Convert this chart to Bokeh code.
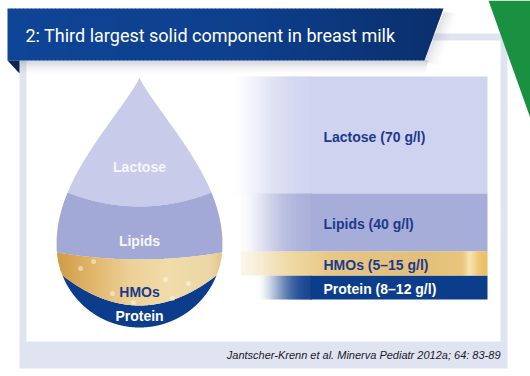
import numpy as np
from bokeh.plotting import figure
from bokeh.models import Range1d
from bokeh.embed import file_html
from bokeh.resources import INLINE
from bokeh.core.properties import value

# ---------------- data ----------------
title = "2: Third largest solid component in breast milk"
components = ["Lactose", "Lipids", "HMOs", "Protein"]
conc_low = [70, 40, 5, 8]
conc_high = [70, 40, 15, 12]
citation = "Jantscher-Krenn et al. Minerva Pediatr 2012a; 64: 83-89"

def conc_label(name, lo, hi):
    return f"{name} ({lo} g/l)" if lo == hi else f"{name} ({lo}\u2013{hi} g/l)"

labels = [conc_label(n, lo, hi) for n, lo, hi in zip(components, conc_low, conc_high)]

# ---------------- helpers ----------------
def hex2rgb(h):
    return tuple(int(h[i:i + 2], 16) for i in (1, 3, 5))

def rgb2hex(c):
    return "#%02x%02x%02x" % tuple(int(round(min(255, max(0, v)))) for v in c)

def grad(stops, t):
    ps = [s[0] for s in stops]
    cs = np.array([hex2rgb(s[1]) for s in stops], float)
    return rgb2hex([np.interp(t, ps, cs[:, k]) for k in range(3)])

def smooth(t):
    t = np.clip(t, 0, 1)
    return t * t * (3 - 2 * t)

W, H = 530, 376
p = figure(width=W, height=H, x_range=Range1d(0, W), y_range=Range1d(H, 0),
           output_backend="svg", toolbar_location=None,
           x_axis_type=None, y_axis_type=None, min_border=0)
p.grid.visible = False
p.outline_line_color = None
p.background_fill_color = "white"
p.border_fill_color = "white"

# ---------------- frame ----------------
p.quad(left=19, right=507, top=33, bottom=368, fill_color="#dfe4f0", line_color=None)
p.quad(left=26, right=500, top=40, bottom=341, fill_color="white", line_color=None)

# ---------------- right-hand bands ----------------
band_edges = [76, 193, 251, 275, 299]
band_right = 487
band_cols = ["#d0d3ef", "#a7add9", None, "#0c3d8b"]
fade_from = [228, 235, None, 255]
for i, col in enumerate(band_cols):
    top, bot = band_edges[i], band_edges[i + 1]
    if col is None:
        continue
    p.quad(left=310, right=band_right, top=top, bottom=bot, fill_color=col, line_color=None)
    xs = np.arange(fade_from[i], 310.5, 1.0)
    for x in xs:
        a = smooth((x - fade_from[i]) / (310 - fade_from[i]))
        p.quad(left=x, right=x + 1.4, top=top, bottom=bot, fill_color=col,
               fill_alpha=float(a), line_color=None)

# gold HMO band
gold_stops = [(240, "#f4ead0"), (290, "#efd7a0"), (330, "#e6c480"), (420, "#e1bc72"),
              (462, "#e8c276"), (469, "#f9e4ac"), (474, "#f3d38e"), (480, "#ecc06a"), (487, "#e9b860")]
for x in np.arange(240, band_right, 1.0):
    a = 0.35 + 0.65 * smooth((x - 240) / 50)
    p.quad(left=x, right=min(x + 1.4, band_right), top=band_edges[2], bottom=band_edges[3],
           fill_color=grad(gold_stops, x + 0.5), fill_alpha=float(a), line_color=None)

# ---------------- drop ----------------
CX, TIP, CY, R = 139, 77, 244, 83
ys_up = np.linspace(TIP, CY, 800)
s_up = (ys_up - TIP) / (CY - TIP)
ws_up = R * np.sin(np.pi / 2 * s_up) ** 1.15

def y_top(dx):
    return np.interp(np.abs(dx), ws_up, ys_up)

def y_bot(dx):
    return CY + np.sqrt(np.clip(R ** 2 - dx ** 2, 0, None))

def curve(edge, sag):
    return lambda dx: edge + sag * (1 - (dx / R) ** 2)

bounds = [None, curve(187.5, 18.5), curve(251.8, 7.2), curve(270, 35), None]

def band_poly(i, dx):
    top = y_top(dx) if bounds[i] is None else np.maximum(bounds[i](dx), y_top(dx))
    bot = y_bot(dx) if bounds[i + 1] is None else np.minimum(bounds[i + 1](dx), y_bot(dx))
    m = top < bot
    if m.sum() < 2:
        return None
    xs = CX + dx[m]
    return list(np.concatenate([xs, xs[::-1]])), list(np.concatenate([top[m], bot[m][::-1]]))

drop_cols = ["#c8cbea", "#a3a9d6", None, "#0b3d8c"]
dx_all = np.linspace(-R, R, 1200)
for i, col in enumerate(drop_cols):
    if col is None:
        continue
    poly = band_poly(i, dx_all)
    if poly:
        p.patch(poly[0], poly[1], fill_color=col, line_color=None)

# gold band in the drop, sliced for a horizontal gradient
drop_gold = [(-83, "#cf9a45"), (-55, "#ddb062"), (-10, "#ecd096"), (30, "#f1dcaa"),
             (70, "#ecd6a6"), (83, "#e2c48c")]
step = 2.0
for a in np.arange(-R, R, step):
    dx = np.linspace(a, min(a + step + 0.7, R), 6)
    poly = band_poly(2, dx)
    if poly:
        p.patch(poly[0], poly[1], fill_color=grad(drop_gold, a + 1), line_color=None)

# bubbles in the HMO layer
bub_x = [93, 112, 133, 172, 165, 188, 80]
bub_y = [261, 293, 302, 298, 279, 283, 268]
p.scatter(bub_x, bub_y, size=5, fill_color="white", fill_alpha=0.45, line_color=None)

# ---------------- banner ----------------
for k in range(14):
    a = 0.30 * (1 - k / 14) ** 1.6
    p.quad(left=19, right=428 - k * 0.3, top=60 + k, bottom=61 + k, fill_color="#6d7380",
           fill_alpha=a, line_color=None)
for k in range(16):
    a = 0.22 * (1 - k / 16) ** 1.6
    p.patch([443 + k, 444 + k, 425 + k, 424 + k], [12, 12, 61 + k * 0.3, 61 + k * 0.3],
            fill_color="#6d7380", fill_alpha=a, line_color=None)

def xr(y):
    return 443 - (y - 8) * (19 / 52)

yy = np.linspace(8, 60, 27)
ban_stops = [(7, "#0f4596"), (250, "#0d3f8c"), (443, "#0a2f6c")]
for xa in np.arange(7, 443, 4.0):
    xb = xa + 4.6
    rx = [min(xb, xr(y)) for y in yy]
    lx = [min(xa, xr(y)) for y in yy][::-1]
    p.patch(rx + lx, list(yy) + list(yy[::-1]), fill_color=grad(ban_stops, xa + 2), line_color=None)
p.patch([7, 19, 19], [60, 60, 73], fill_color="#0a2552", line_color=None)

p.text(x=[25], y=[35], text=[title], text_font=value("Roboto"), text_font_size="18px",
       text_color="white", text_baseline="middle", text_align="left")

# green corner
p.patch([488, 530, 530], [0, 0, 118], fill_color="#1a9140", line_color=None)

# ---------------- labels ----------------
drop_lab_y = [166, 240, 291, 315]
drop_lab_col = ["#f6f6fb", "#f6f6fb", "#1b3a8c", "white"]
p.text(x=[CX] * 4, y=drop_lab_y, text=components, text_font=value("Liberation Sans"),
       text_font_size="14px", text_font_style="bold", text_color=drop_lab_col,
       text_align="center", text_baseline="middle")

band_lab_y = [136, 223, 264, 288]
band_lab_col = ["#1c3a8c", "#1c3a8c", "#1c3a8c", "white"]
p.text(x=[323] * 4, y=band_lab_y, text=labels, text_font=value("Liberation Sans"),
       text_font_size="14px", text_font_style="bold", text_color=band_lab_col,
       text_align="left", text_baseline="middle")

p.text(x=[500], y=[354], text=[citation], text_font=value("Liberation Sans"),
       text_font_size="11px", text_font_style="italic", text_color="#1a1a2a",
       text_align="right", text_baseline="middle")

open("out.html", "w").write(file_html(p, INLINE))
